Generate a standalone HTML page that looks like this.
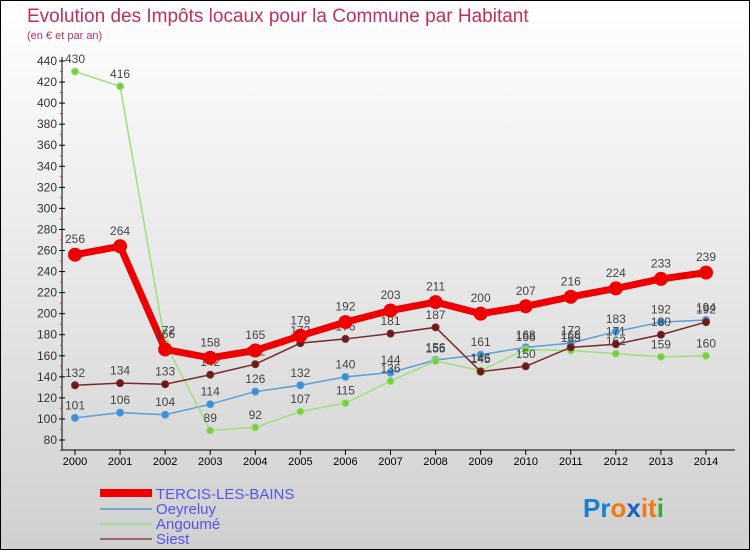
<!DOCTYPE html>
<html><head><meta charset="utf-8"><style>
body{margin:0}
#c{width:748px;height:548px;border:1px solid #000;background:linear-gradient(#fff,#d0d0d0);position:relative;font-family:"Liberation Sans",sans-serif;overflow:hidden}
</style></head><body>
<div id="c">
<svg width="748" height="548" viewBox="1 1 748 548" id="s">
<text x="27" y="22" font-size="19" fill="#c0305a">Evolution des Impôts locaux pour la Commune par Habitant</text>
<text x="27" y="39" font-size="11" fill="#c0305a">(en € et par an)</text>
<g id="axes"></g><g id="series"></g>
<g>
<rect x="100" y="489" width="52" height="8" fill="#e00"/>
<text x="156" y="499" font-size="15" fill="#5555ee">TERCIS-LES-BAINS</text>
<rect x="100" y="508" width="52" height="2" fill="#7aa7c7"/>
<text x="156" y="514" font-size="15" fill="#5555ee">Oeyreluy</text>
<rect x="100" y="523" width="52" height="2" fill="#9d9"/>
<text x="156" y="529" font-size="15" fill="#5555ee">Angoumé</text>
<rect x="100" y="538" width="52" height="2" fill="#966"/>
<text x="156" y="544" font-size="15" fill="#5555ee">Siest</text>
</g>
<text x="583" y="517" font-size="26" font-weight="bold"><tspan fill="#1a7fd0">Pr</tspan><tspan fill="#f07a10">o</tspan><tspan fill="#1a60c0">x</tspan><tspan fill="#f07a10">it</tspan><tspan fill="#3a3">i</tspan></text>
</svg></div>
<script>
const years=[2000,2001,2002,2003,2004,2005,2006,2007,2008,2009,2010,2011,2012,2013,2014];
const yTicks=[80,100,120,140,160,180,200,220,240,260,280,300,320,340,360,380,400,420,440];
const tercis=[256,264,166,158,165,179,192,203,211,200,207,216,224,233,239];
const oeyreluy=[101,106,104,114,126,132,140,144,156,161,168,172,183,192,194];
const angoume=[430,416,172,89,92,107,115,136,155,146,166,165,162,159,160];
const siest=[132,134,133,142,152,172,176,181,187,145,150,168,171,180,192];
const NS="http://www.w3.org/2000/svg";
const X=i=>75+i*(706-75)/(years.length-1);
const Y=v=>440-(v-80)*(440-61)/360;
function mk(t,a,p){const e=document.createElementNS(NS,t);for(const k in a)e.setAttribute(k,a[k]);p.appendChild(e);return e;}
const ax=document.getElementById('axes'),sg=document.getElementById('series');
const yl=mk('line',{x1:62,y1:57,x2:62,y2:450,stroke:'#000'},ax);


const xl=mk('line',{x1:62,y1:450,x2:735,y2:450,stroke:'#000'},ax);


yTicks.forEach(v=>{const y=Y(v);mk('line',{x1:59,y1:y,x2:65,y2:y,stroke:'#000'},ax);
mk('line',{x1:60,y1:y+10.5,x2:63,y2:y+10.5,stroke:'#e33'},ax);
const t=mk('text',{x:57,y:y+4,'font-size':12,fill:'#333','text-anchor':'end'},ax);t.textContent=v;

});
years.forEach((yr,i)=>{const x=X(i);mk('line',{x1:x,y1:450,x2:x,y2:455,stroke:'#000'},ax);
const t=mk('text',{x:x,y:465,'font-size':11,fill:'#000','text-anchor':'middle'},ax);t.textContent=yr;

});
function series(name,d,col,fill,w,r){const g=mk('g',{},sg);


mk('polyline',{points:d.map((v,i)=>X(i)+','+Y(v)).join(' '),fill:'none',stroke:col,'stroke-width':w},g);
d.forEach((v,i)=>{const c=mk('circle',{cx:X(i),cy:Y(v),r:r,fill:fill,stroke:col,'stroke-width':1},g);


const t=mk('text',{x:X(i),y:Y(v)-(r+5),'font-size':12,fill:'#444','text-anchor':'middle'},g);t.textContent=v;

});}
series('oeyreluy',oeyreluy,'#5b9fd6','#3a8fd6',1.5,3.5);
series('angoume',angoume,'#9de07a','#77cc44',1.5,3.5);
series('siest',siest,'#7a2a2a','#6b1a1a',1.5,3.5);
series('tercis',tercis,'#ee0000','#ee0000',7,6.5);
</script>
</body></html>
